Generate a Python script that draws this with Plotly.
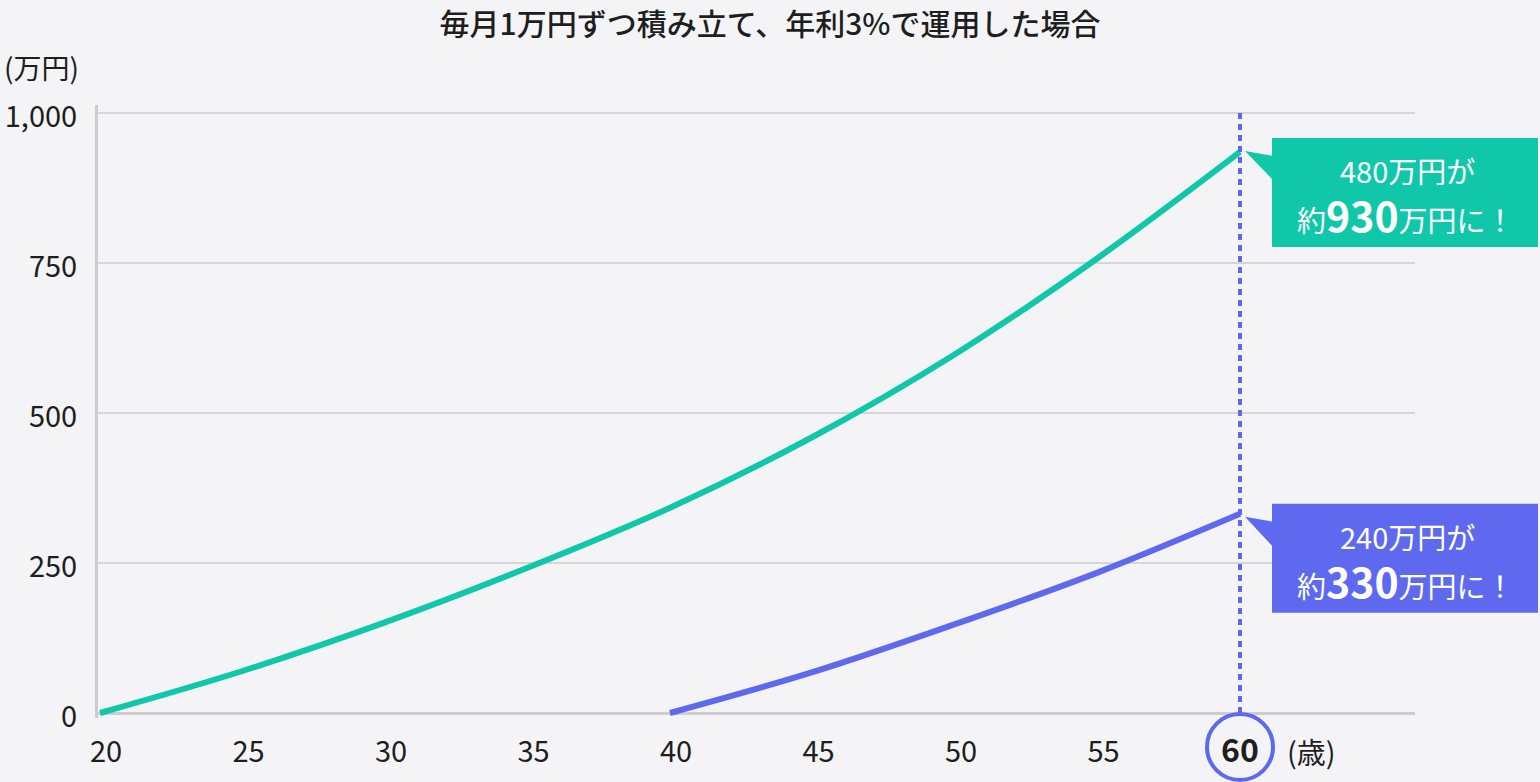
import plotly.graph_objects as go

# ---------------- data ----------------
ages_green = [20, 25, 30, 35, 40, 45, 50, 55, 60]
values_green = [0, 70, 151, 242, 342, 460, 598, 758, 935]

ages_purple = [40, 45, 50, 55, 60]
values_purple = [0, 68, 148, 234, 332]

x_tick_vals = [20, 25, 30, 35, 40, 45, 50, 55]
x_tick_text = ["20", "25", "30", "35", "40", "45", "50", "55"]
highlight_age = 60
highlight_label = "60"
x_unit = "(歳)"

y_tick_vals = [0, 250, 500, 750, 1000]
y_tick_text = ["0", "250", "500", "750", "1,000"]
y_unit = "(万円)"

title_text = "毎月1万円ずつ積み立て、年利3%で運用した場合"
green_line1 = "480万円が"
green_amount = "930"
purple_line1 = "240万円が"
purple_amount = "330"

# ---------------- styles ----------------
GREEN = "#10C8A9"
PURPLE = "#5E69F0"
BG = "#F4F4F7"
GRID = "#D6D6DA"
AXIS = "#CDCDCF"
TEXT = "#1E1E1E"
FONT = "Noto Sans CJK JP"

W, H = 1540, 782
ML, MR, MT, MB = 98, 125, 105, 64
X_RANGE = [19.93, 66.14]
Y_RANGE = [-8.33, 1013.3]

fig = go.Figure()
fig.add_trace(go.Scatter(x=ages_green, y=values_green, mode="lines",
                         line=dict(color=GREEN, width=6, shape="spline", smoothing=1.0),
                         hoverinfo="skip", showlegend=False))
fig.add_trace(go.Scatter(x=ages_purple, y=values_purple, mode="lines",
                         line=dict(color=PURPLE, width=6, shape="spline", smoothing=1.0),
                         hoverinfo="skip", showlegend=False))

p60 = (highlight_age - X_RANGE[0]) / (X_RANGE[1] - X_RANGE[0])

shapes = []
annotations = []

# dotted vertical line at 60
shapes.append(dict(type="line", xref="x", yref="y", x0=highlight_age, x1=highlight_age,
                   y0=0, y1=1005, line=dict(color=PURPLE, width=4, dash="6px,5px"), layer="above"))

# circle around 60
shapes.append(dict(type="circle", xref="paper", yref="paper", xsizemode="pixel", ysizemode="pixel",
                   xanchor=p60, yanchor=0, x0=-33, x1=33, y0=-62, y1=4,
                   line=dict(color=PURPLE, width=4), fillcolor=BG, layer="above"))
annotations.append(dict(xref="paper", yref="paper", x=p60, y=0, yshift=-30, showarrow=False,
                        text="<b>" + highlight_label + "</b>", font=dict(size=32, color=TEXT, family=FONT),
                        xanchor="center", yanchor="middle"))
annotations.append(dict(xref="paper", yref="paper", x=p60, y=0, xshift=71, yshift=-33, showarrow=False,
                        text=x_unit, font=dict(size=29, color=TEXT, family=FONT),
                        xanchor="center", yanchor="middle"))


def callout(end_val, color, top, line1, amount, tip, base_top, base_bot):
    bottom = top - 109
    shapes.append(dict(type="rect", xref="paper", yref="y", xsizemode="pixel", ysizemode="pixel",
                       xanchor=p60, yanchor=end_val, x0=32, x1=298, y0=bottom, y1=top,
                       line=dict(width=0), fillcolor=color, layer="above"))
    shapes.append(dict(type="path", xref="paper", yref="y", xsizemode="pixel", ysizemode="pixel",
                       xanchor=p60, yanchor=end_val,
                       path=f"M 5,{tip} L 33,{base_top} L 33,{base_bot} Z",
                       line=dict(width=0), fillcolor=color, layer="above"))
    annotations.append(dict(xref="paper", yref="y", x=p60, y=end_val, xshift=167, yshift=top - 32,
                            showarrow=False, text=line1, xanchor="center", yanchor="middle",
                            font=dict(size=29, color="white", family=FONT)))
    annotations.append(dict(xref="paper", yref="y", x=p60, y=end_val, xshift=166, yshift=top - 76,
                            showarrow=False,
                            text="約<span style='font-size:41px'><b>" + amount + "</b></span>万円に！",
                            xanchor="center", yanchor="middle",
                            font=dict(size=29, color="white", family=FONT)))


callout(values_green[-1], GREEN, 14, green_line1, green_amount, 1, -4, -28)
callout(values_purple[-1], PURPLE, 10, purple_line1, purple_amount, -3, -8, -33)

# y unit label
annotations.append(dict(xref="paper", yref="paper", x=0, y=1, xshift=-17, yshift=38, showarrow=False,
                        text=y_unit, xanchor="right", yanchor="middle",
                        font=dict(size=28, color=TEXT, family=FONT)))

fig.update_layout(
    width=W, height=H,
    margin=dict(l=ML, r=MR, t=MT, b=MB, autoexpand=False),
    paper_bgcolor=BG, plot_bgcolor=BG,
    font=dict(family=FONT, color=TEXT, size=29),
    title=dict(text=title_text, x=0.5, xref="container", xanchor="center",
               y=1 - 24 / H, yanchor="middle", yref="container",
               font=dict(size=30, color=TEXT, family=FONT, weight=500)),
    shapes=shapes, annotations=annotations,
    showlegend=False,
)
fig.update_xaxes(range=X_RANGE, tickvals=x_tick_vals, ticktext=x_tick_text,
                 showgrid=False, zeroline=False, showline=False, ticks="",
                 ticklabelstandoff=14, ticklabelshift=6, automargin=False,
                 tickfont=dict(size=29, color=TEXT, family=FONT), fixedrange=True)
fig.update_yaxes(range=Y_RANGE, tickvals=y_tick_vals, ticktext=y_tick_text,
                 showgrid=True, gridcolor=GRID, gridwidth=2,
                 zeroline=True, zerolinecolor=AXIS, zerolinewidth=3,
                 showline=True, linecolor=AXIS, linewidth=3, ticks="",
                 ticklabelstandoff=12, ticklabelshift=4, automargin=False,
                 tickfont=dict(size=29, color=TEXT, family=FONT), fixedrange=True)

fig.write_html("out.html", config={"displayModeBar": False})
